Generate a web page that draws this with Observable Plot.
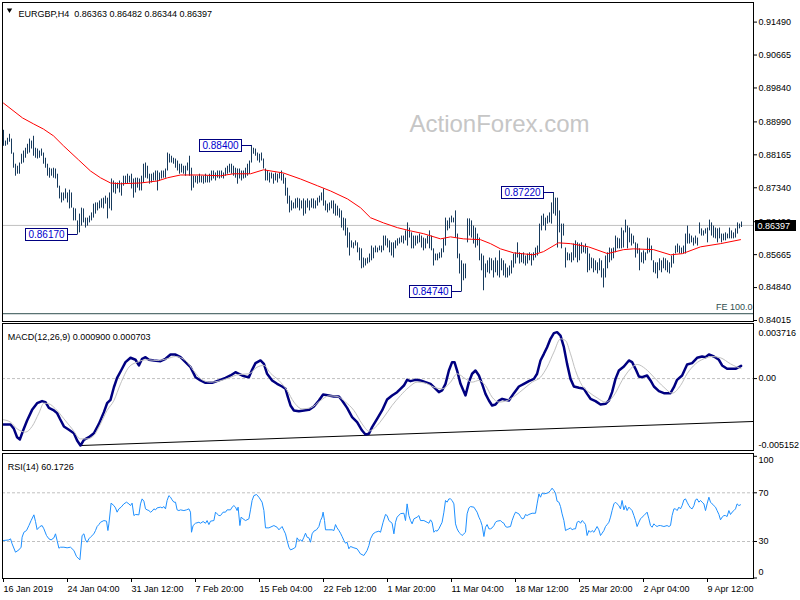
<!DOCTYPE html>
<html><head><meta charset="utf-8">
<script src="https://cdn.jsdelivr.net/npm/d3@7"></script>
<script src="https://cdn.jsdelivr.net/npm/@observablehq/plot@0.6"></script>
<style>
body{margin:0;background:#fff;}
#chart{position:relative;width:800px;height:600px;background:#fff;overflow:hidden;}
#chart svg{position:absolute;left:0;top:0;}
</style></head><body><div id="chart"></div>
<script>
// ---------------- DATA ----------------
const chartTitle = "EURGBP,H4\u00a0\u00a00.86363 0.86482 0.86344 0.86397";
const macdTitle = "MACD(12,26,9) 0.000900 0.000703";
const rsiTitle = "RSI(14) 60.1726";
const watermark = "ActionForex.com";
const lastClose = 0.86397;
const lastCloseLabel = "0.86397";

const barHigh = [
0.8878,0.8851,0.8858,0.8868,0.8856,0.8821,0.8793,0.8788,0.8796,0.8818,
0.8826,0.8833,0.8843,0.8856,0.8851,0.8863,0.8833,0.8831,0.8826,0.8831,
0.8821,0.8808,0.8793,0.8783,0.8781,0.8783,0.8781,0.8768,0.8738,0.8721,
0.8721,0.8731,0.8721,0.8728,0.8721,0.8683,0.8681,0.8651,0.8668,0.8683,
0.8681,0.8658,0.8658,0.8663,0.8671,0.8693,0.8696,0.8696,0.8701,0.8706,
0.8708,0.8713,0.8708,0.8721,0.8756,0.8751,0.8746,0.8746,0.8751,0.8746,
0.8763,0.8763,0.8768,0.8763,0.8768,0.8756,0.8758,0.8758,0.8756,0.8763,
0.8793,0.8796,0.8788,0.8768,0.8768,0.8771,0.8776,0.8776,0.8771,0.8776,
0.8776,0.8781,0.8821,0.8818,0.8813,0.8808,0.8806,0.8801,0.8793,0.8793,
0.8788,0.8788,0.8796,0.8813,0.8783,0.8763,0.8763,0.8763,0.8768,0.8763,
0.8763,0.8768,0.8763,0.8768,0.8776,0.8776,0.8771,0.8776,0.8776,0.8776,
0.8771,0.8783,0.8788,0.8793,0.8793,0.8788,0.8783,0.8781,0.8781,0.8776,
0.8776,0.8783,0.8793,0.8801,0.8840,0.8833,0.8831,0.8821,0.8818,0.8821,
0.8806,0.8781,0.8776,0.8771,0.8771,0.8768,0.8771,0.8768,0.8771,0.8776,
0.8768,0.8758,0.8733,0.8713,0.8701,0.8696,0.8706,0.8708,0.8706,0.8701,
0.8706,0.8701,0.8706,0.8701,0.8706,0.8706,0.8701,0.8708,0.8713,0.8721,
0.8731,0.8701,0.8693,0.8696,0.8701,0.8701,0.8693,0.8688,0.8681,0.8676,
0.8658,0.8656,0.8633,0.8621,0.8601,0.8596,0.8601,0.8596,0.8583,0.8581,
0.8558,0.8556,0.8558,0.8568,0.8588,0.8583,0.8588,0.8583,0.8588,0.8588,
0.8613,0.8613,0.8606,0.8601,0.8596,0.8596,0.8601,0.8606,0.8608,0.8613,
0.8613,0.8626,0.8646,0.8633,0.8621,0.8613,0.8613,0.8613,0.8618,0.8613,
0.8608,0.8606,0.8613,0.8626,0.8613,0.8581,0.8568,0.8568,0.8571,0.8581,
0.8606,0.8658,0.8651,0.8658,0.8663,0.8658,0.8676,0.8618,0.8568,0.8551,
0.8543,0.8543,0.8656,0.8656,0.8651,0.8638,0.8633,0.8618,0.8608,0.8568,
0.8563,0.8543,0.8551,0.8558,0.8556,0.8551,0.8558,0.8551,0.8576,0.8556,
0.8551,0.8543,0.8533,0.8538,0.8551,0.8568,0.8571,0.8596,0.8571,0.8568,
0.8571,0.8563,0.8568,0.8571,0.8568,0.8571,0.8583,0.8588,0.8643,0.8663,
0.8668,0.8658,0.8663,0.8671,0.8696,0.8722,0.8708,0.8708,0.8676,0.8643,
0.8643,0.8583,0.8571,0.8568,0.8571,0.8593,0.8601,0.8596,0.8593,0.8596,
0.8588,0.8593,0.8583,0.8568,0.8558,0.8556,0.8551,0.8546,0.8556,0.8551,
0.8531,0.8563,0.8571,0.8583,0.8581,0.8583,0.8613,0.8608,0.8606,0.8633,
0.8626,0.8653,0.8638,0.8633,0.8618,0.8613,0.8596,0.8593,0.8581,0.8571,
0.8576,0.8571,0.8608,0.8606,0.8588,0.8551,0.8546,0.8546,0.8556,0.8551,
0.8558,0.8556,0.8551,0.8546,0.8563,0.8568,0.8588,0.8593,0.8588,0.8583,
0.8588,0.8618,0.8638,0.8618,0.8613,0.8608,0.8613,0.8608,0.8646,0.8631,
0.8626,0.8631,0.8633,0.8653,0.8646,0.8638,0.8633,0.8631,0.8633,0.8618,
0.8618,0.8621,0.8618,0.8633,0.8626,0.8621,0.8631,0.8646,0.8643,0.86482];

const barLow = [
0.8838,0.8838,0.8841,0.8848,0.8818,0.8783,0.8763,0.8768,0.8768,0.8793,
0.8796,0.8808,0.8818,0.8821,0.8831,0.8813,0.8808,0.8806,0.8808,0.8813,
0.8793,0.8783,0.8763,0.8758,0.8763,0.8758,0.8756,0.8733,0.8706,0.8696,
0.8701,0.8706,0.8696,0.8681,0.8683,0.8651,0.8651,0.8617,0.8621,0.8638,
0.8646,0.8633,0.8638,0.8646,0.8651,0.8658,0.8668,0.8676,0.8681,0.8683,
0.8681,0.8693,0.8656,0.8681,0.8676,0.8721,0.8718,0.8731,0.8721,0.8713,
0.8738,0.8743,0.8743,0.8746,0.8731,0.8708,0.8721,0.8733,0.8726,0.8726,
0.8746,0.8758,0.8756,0.8743,0.8746,0.8751,0.8751,0.8726,0.8751,0.8756,
0.8758,0.8758,0.8776,0.8796,0.8796,0.8793,0.8783,0.8776,0.8768,0.8771,
0.8768,0.8763,0.8776,0.8763,0.8726,0.8733,0.8746,0.8743,0.8746,0.8746,
0.8743,0.8746,0.8746,0.8746,0.8751,0.8756,0.8751,0.8758,0.8756,0.8758,
0.8756,0.8763,0.8768,0.8771,0.8768,0.8763,0.8758,0.8743,0.8756,0.8751,
0.8756,0.8758,0.8763,0.8768,0.8796,0.8818,0.8813,0.8801,0.8796,0.8801,
0.8781,0.8751,0.8751,0.8746,0.8756,0.8743,0.8751,0.8746,0.8756,0.8751,
0.8743,0.8713,0.8693,0.8671,0.8676,0.8681,0.8681,0.8683,0.8676,0.8681,
0.8663,0.8668,0.8683,0.8676,0.8683,0.8681,0.8681,0.8688,0.8696,0.8701,
0.8688,0.8676,0.8671,0.8676,0.8681,0.8668,0.8663,0.8663,0.8658,0.8633,
0.8626,0.8613,0.8583,0.8563,0.8583,0.8581,0.8588,0.8571,0.8551,0.8531,
0.8533,0.8538,0.8543,0.8546,0.8551,0.8556,0.8571,0.8571,0.8576,0.8571,
0.8576,0.8588,0.8583,0.8571,0.8563,0.8558,0.8581,0.8588,0.8593,0.8596,
0.8593,0.8601,0.8588,0.8608,0.8581,0.8581,0.8588,0.8593,0.8596,0.8583,
0.8576,0.8581,0.8593,0.8581,0.8576,0.8538,0.8551,0.8551,0.8556,0.8558,
0.8571,0.8588,0.8626,0.8631,0.8646,0.8646,0.8608,0.8556,0.8518,0.8474,
0.8501,0.8506,0.8596,0.8613,0.8608,0.8593,0.8583,0.8588,0.8551,0.8526,
0.8476,0.8508,0.8521,0.8518,0.8526,0.8508,0.8521,0.8513,0.8508,0.8526,
0.8513,0.8508,0.8508,0.8513,0.8518,0.8533,0.8543,0.8558,0.8543,0.8546,
0.8543,0.8538,0.8543,0.8551,0.8538,0.8551,0.8558,0.8563,0.8571,0.8626,
0.8638,0.8626,0.8643,0.8646,0.8643,0.8668,0.8663,0.8583,0.8621,0.8581,
0.8613,0.8533,0.8551,0.8551,0.8546,0.8551,0.8558,0.8546,0.8551,0.8568,
0.8571,0.8568,0.8521,0.8526,0.8531,0.8521,0.8526,0.8518,0.8526,0.8508,
0.8483,0.8508,0.8531,0.8546,0.8551,0.8556,0.8571,0.8581,0.8581,0.8581,
0.8583,0.8621,0.8581,0.8596,0.8588,0.8593,0.8558,0.8568,0.8526,0.8546,
0.8543,0.8551,0.8568,0.8571,0.8551,0.8521,0.8518,0.8506,0.8526,0.8521,
0.8531,0.8526,0.8521,0.8518,0.8533,0.8543,0.8568,0.8571,0.8568,0.8568,
0.8568,0.8568,0.8593,0.8593,0.8596,0.8588,0.8593,0.8588,0.8618,0.8613,
0.8613,0.8618,0.8596,0.8626,0.8613,0.8608,0.8606,0.8596,0.8606,0.8596,
0.8601,0.8601,0.8606,0.8606,0.8606,0.8606,0.8608,0.8618,0.8631,0.86344];

// moving average (red)
const maBar = [0,9.5,15,20,25,30,37.5,43.5,48.5,53.5,58.5,68.5,77,82,88.5,98.5,108.5,115,123.5,130,140,148.5,157,163.5,172,178.5,183.5,190,197,203.5,210,218.5,223.5,230,238.5,243.5,248.5,255,265,270,277.5,283.5,292.5,302,310,315,325,333.5,339.5,348.5,358.5,368.5];
const maValue = [0.8946,0.8909,0.8894,0.8881,0.8864,0.8839,0.8804,0.8776,0.8759,0.8746,0.8744,0.8746,0.8751,0.8759,0.8766,0.8766,0.8764,0.8769,0.8769,0.8779,0.8771,0.8756,0.8739,0.8726,0.8706,0.8684,0.8659,0.8646,0.8634,0.8626,0.8619,0.8606,0.8611,0.8606,0.8604,0.8594,0.8581,0.8571,0.8566,0.8574,0.8596,0.8594,0.8586,0.8569,0.8579,0.8581,0.8579,0.8566,0.8569,0.8586,0.8594,0.8604];

// swing labels
const swingBar = [37, 124, 229, 275];
const swingPrice = [0.8617, 0.8840, 0.8474, 0.8722];
const swingLabel = ["0.86170", "0.88400", "0.84740", "0.87220"];

// Fibonacci expansion level
const feLevel = 0.84185;
const feLabel = "FE 100.0";

const priceTicks = [0.91490, 0.90665, 0.89840, 0.88990, 0.88165, 0.87340, 0.86490, 0.85665, 0.84840, 0.84015];

// MACD main line
const macdBar = [0,3.5,5.2,6.8,8.2,9.8,11.8,14.3,16.8,19.3,21,22.7,25.2,26.8,28.2,30.2,32.7,35.2,36.8,38.5,40.2,42.7,45.2,47.7,50.2,51.8,53.5,55.2,56.8,58.8,61,63.5,66,67.7,69.3,71,72.7,75.2,78.5,81,83.5,86,88.5,91,93.5,96,98.5,101,104.3,107.7,111,113.5,116,117.7,119.3,121,122.7,124.3,126,128.5,130.2,131.8,134.3,136.8,139.3,141,142.2,143.5,145.2,147.7,150.2,152.7,155.2,157.7,159.8,162.7,165.2,167.7,169.3,171.8,174.3,176.8,179.3,181,182.7,184.3,186.8,189.3,191.8,194.3,196.8,
198.5,200.2,201.8,203.5,206,208.5,211,213.5,215.2,217.7,219.3,221,222.7,224.3,225.5,226.8,228.5,231,232.7,234.3,236,237.7,239.3,241,242.7,244.3,246,247.7,249.3,251,252.7,255.2,257.7,260.2,262.7,265.2,266.8,268.5,270.2,271.8,273.5,275.2,276.8,278.5,280.2,281.8,283.5,285.2,287.7,290.2,291.8,293.5,296,298.5,301,302.7,304.3,306,307.7,310.2,312.7,314.3,316,317.7,319.3,321.8,323.5,325.2,327.7,330.2,333.5,335.2,336.8,339.3,341.8,344.3,346.8,349.3,351,352.7,355.2,357.7,359.3,361.8,364.3,366,367.7,368.8];
const macdValue = [-0.00324,-0.00324,-0.00355,-0.00414,-0.0043,-0.00367,-0.00296,-0.00221,-0.00174,-0.00159,-0.00166,-0.00207,-0.00225,-0.00244,-0.00284,-0.00338,-0.00362,-0.00386,-0.00437,-0.00473,-0.00433,-0.00414,-0.00386,-0.0032,-0.00237,-0.00174,-0.0015,-0.00061,0.00005,0.00057,0.00116,0.00147,0.00133,0.00093,0.0014,0.00151,0.00133,0.00128,0.00123,0.0014,0.0017,0.0017,0.00151,0.00116,0.00081,0.0001,-0.00013,-0.0003,-0.0003,-0.00013,0.00005,0.00022,0.00045,0.00034,0.00022,0.00015,0.0001,0.00062,0.00109,0.00128,0.00104,0.00034,-0.00013,-0.00037,-0.00056,-0.00072,-0.00131,-0.0019,-0.00225,-0.0023,-0.00225,-0.00221,-0.00197,-0.00155,-0.00112,-0.00119,-0.00126,-0.00126,-0.00155,-0.00207,-0.00272,-0.00308,-0.00367,-0.00395,-0.0039,-0.00343,-0.00284,-0.00225,-0.00148,-0.00119,-0.00096,
-0.00072,-0.00049,-0.00009,-0.00018,-0.00009,-0.00013,-0.00025,-0.00037,-0.00061,-0.00096,-0.00084,-0.00037,0.00057,0.00116,0.00116,0.00057,-0.00037,-0.00119,-0.00025,0.00034,0.00057,0.00022,-0.00037,-0.00108,-0.00155,-0.0019,-0.00183,-0.00155,-0.00143,-0.0015,-0.00155,-0.00103,-0.00056,-0.00037,-0.00018,-0.00002,0.00034,0.00128,0.00175,0.00222,0.00281,0.00321,0.00328,0.00304,0.00222,0.00104,-0.00002,-0.00056,-0.00065,-0.00072,-0.00108,-0.00143,-0.00159,-0.00183,-0.00178,-0.00155,-0.00096,-0.00002,0.00057,0.00085,0.00128,0.00116,0.00069,0.00015,0.0001,0.00022,-0.00013,-0.00056,-0.00089,-0.00103,-0.00103,-0.00061,-0.00009,0.00022,0.001,0.00109,0.00147,0.00156,0.00151,0.0017,0.00156,0.00133,0.00093,0.00069,0.00069,0.00069,0.00081,0.0009];

// MACD signal line
const signalBar = [0,3.5,6.8,11,14.3,17.7,20.2,22.7,26,30.2,34.3,38.5,41.8,45.2,48.5,51.8,55.2,58.5,62.7,66.8,71.8,76.8,81.8,86,91,95.2,99.3,103.5,107.7,112.7,117.7,122.7,126.8,130.2,133.5,137.7,141.8,145.2,149.3,153.5,158.5,162.7,166.8,171,175.2,179.3,182.7,186,190.2,194.3,198.5,202.7,206.8,211,215.2,219.3,223.5,226.8,231,234.3,237.7,241,244.3,247.7,251.8,256,260.2,264.3,268.5,271.8,275.2,278.5,281,283.5,286,289.3,292.7,296.8,301,305.2,309.3,313.5,316.8,321,325.2,330.2,334.3,338.5,341.8,346,350.2,354.3,358.5,363.5,366.8,368.8];
const signalValue = [-0.00291,-0.00308,-0.00355,-0.00378,-0.00338,-0.00244,-0.00174,-0.00178,-0.00214,-0.00284,-0.00355,-0.00426,-0.00426,-0.00402,-0.0032,-0.00225,-0.00155,-0.00037,0.00081,0.00116,0.00133,0.00128,0.0014,0.00156,0.00128,0.00053,-0.00009,-0.00025,-0.00018,0.00005,0.00029,0.00034,0.00081,0.00093,0.00038,-0.00013,-0.00084,-0.00166,-0.00214,-0.00207,-0.00155,-0.00122,-0.00126,-0.00166,-0.00225,-0.0032,-0.00371,-0.00343,-0.00272,-0.0019,-0.0012,-0.00061,-0.00025,-0.00032,-0.00061,-0.00072,-0.00025,0.00034,-0.00002,-0.00025,-0.00013,-0.00049,-0.00131,-0.00166,-0.00155,-0.00119,-0.00072,-0.00025,0.0001,0.00081,0.00187,0.00281,0.00269,0.00175,0.00057,-0.00049,-0.00096,-0.00136,-0.00166,-0.00119,-0.00013,0.00069,0.001,0.00069,0.0001,-0.00061,-0.00103,-0.00049,0.00034,0.00104,0.0014,0.00156,0.00147,0.00104,0.00081,0.000703];

const macdTrendBar = [38.5, 375];
const macdTrendValue = [-0.00473, -0.00303];
const macdMax = 0.003716, macdMin = -0.005152;

// RSI(14)
const rsiBar = [0,2.7,3.5,4.3,6,7.7,8.8,9.3,10.2,11.5,12.7,13.8,15.2,16,16.8,18.2,19.3,20.2,21.5,22.7,23.8,25.2,26,26.8,27.7,28.5,30.2,31.8,33.5,35.2,36.5,37.7,38.2,39.3,40.2,41,41.8,42.7,43.8,45.2,46,46.8,47.7,48.5,50.2,51.5,52.2,52.7,53.8,55.2,56,56.8,57.7,58.8,60.2,61.5,62.7,63.5,64.3,65.2,66,67.7,68.5,69.3,70.2,71,71.8,72.7,73.5,74.3,75.2,76,76.8,78.5,79.3,80.2,81,81.8,82.7,83.5,84.3,85.2,86,86.8,87.7,88.5,90.2,91.5,92.7,93.5,94,94.8,96,97.7,98.5,99.8,101,101.8,102.7,103.5,105.2,106,106.8,107.7,108.5,109.8,111,111.8,113.5,114.3,115.2,116,116.8,117.3,118.2,118.8,119.8,121,122.7,123.5,124.3,125.2,126.5,127.7,129.3,130.2,131,132.7,135.2,136.8,137.7,139.3,140.2,141,141.8,142.7,143.5,144.8,146,146.8,147.7,148.5,149.3,150.2,151,151.8,152.7,153.5,154.3,155.2,156.5,157.7,158.5,159.3,159.8,160.5,161,162.7,164.3,165.2,166,166.8,167.7,168.5,169.3,170.2,171,171.8,172.7,173.5,175.2,176.8,178.5,180.2,181.8,182.7,183.5,184.8,186,187.7,188.5,189.8,191,191.8,192.7,194.3,195.2,196,196.8,198.5,200.2,201,201.8,202.7,203.5,204.3,205.2,206.8,207.7,208.5,210.2,211.8,212.7,213.5,214.3,215.2,216,216.8,217.7,219.3,220.2,221,221.8,222.7,223.5,224.3,225.2,226,226.8,227.7,228.5,229.3,230.2,231,231.8,232.7,233.5,235.2,236.8,237.7,238.5,239.3,240.2,241,241.8,242.7,243.5,244.3,245.2,246,246.8,248.5,249.3,250.2,251,251.8,253.5,254.3,255.2,256,257.7,258.5,259.3,260.2,261,261.8,262.7,264.3,266,266.8,267.7,268.5,269.3,270.2,271.8,272.7,273.5,274.3,275.2,276,276.8,277.7,278.5,279.3,280.2,281,281.8,282.7,283.5,284.3,285.2,286,286.8,287.7,288.5,289.3,290.2,291,291.8,292.7,293.5,294.3,295.2,296.8,297.7,298.5,299.3,300.2,301,301.8,302.7,303.5,304.3,305.2,306,306.8,307.7,308.5,309.3,310.2,311,311.8,312.7,313.5,314.3,315.2,316,316.8,317.7,318.5,319.3,320.2,321.8,322.7,323.5,324.3,325.2,326,326.8,327.7,328.5,330.2,331.8,332.7,333.5,334.3,335.2,336,336.8,337.7,338.5,339.3,340.2,341,341.8,342.7,343.5,344.3,345.2,346,346.8,347.7,348.5,349.3,350.2,351,351.8,352.7,353.5,354.3,355.2,356,356.8,357.7,358.5,359.3,360.2,361,361.8,362.7,363.5,364.3,365.2,366,366.8,367.7,368.5];
const rsiValue = [30.8,31.3,32.2,28.1,21.2,23.1,25.3,33.5,37.6,39.0,43.1,47.2,51.9,46.4,39.8,42.3,43.1,40.4,34.9,32.2,31.3,33.0,36.3,30.8,24.5,25.3,25.3,24.8,25.3,22.6,17.6,15.7,14.9,34.9,36.3,31.3,29.4,32.2,34.1,36.3,39.0,42.3,43.9,45.8,47.2,46.7,39.0,44.5,61.5,59.5,57.6,54.1,56.8,58.2,60.9,62.3,60.9,59.5,61.5,51.3,52.2,51.9,60.9,65.0,63.1,56.8,56.0,55.4,54.1,54.9,56.8,56.0,57.6,58.2,57.6,58.7,56.8,63.7,67.7,66.4,64.2,62.3,62.3,56.0,55.4,56.0,55.4,56.0,56.8,54.1,37.6,43.1,45.0,45.8,45.0,46.4,45.0,47.2,43.9,46.7,47.2,54.1,52.7,51.3,51.3,54.1,54.1,56.0,56.0,58.2,59.5,58.2,55.4,58.2,43.1,50.0,48.6,47.2,48.6,56.0,63.7,67.7,68.6,66.4,62.3,55.4,41.2,41.2,43.1,41.7,39.6,42.3,39.0,36.3,30.8,25.3,23.1,24.0,25.3,33.0,30.8,31.3,30.2,33.5,36.8,33.5,33.0,29.4,36.3,38.5,39.6,42.3,47.2,50.0,54.1,47.2,39.6,39.6,39.6,39.0,43.9,41.2,39.0,36.8,34.1,30.8,28.6,29.4,24.0,25.9,24.8,24.0,19.8,18.5,22.6,26.7,32.2,36.3,37.6,38.5,37.6,45.8,52.2,51.3,47.2,45.0,36.3,45.8,50.0,52.9,53.2,47.2,60.9,51.3,47.2,44.5,48.6,50.0,51.3,47.2,47.2,45.8,45.0,47.8,45.8,37.6,39.0,38.5,40.4,45.8,54.1,63.7,62.3,65.0,65.0,63.7,60.9,44.5,40.4,37.6,36.3,34.9,36.3,37.6,52.7,57.6,58.7,58.2,54.1,50.0,47.2,43.1,34.1,41.7,43.9,40.4,40.4,41.2,43.1,45.8,46.7,47.2,45.8,45.0,42.3,41.7,42.3,47.2,51.3,54.1,52.7,50.5,48.6,49.1,52.2,51.3,52.2,53.2,53.2,60.9,69.1,66.4,69.7,69.1,69.7,70.5,71.9,73.8,71.9,69.7,63.1,62.3,58.7,52.7,47.2,39.0,39.8,40.4,41.2,39.6,40.4,40.4,45.8,46.7,45.0,47.2,45.8,43.9,34.9,39.0,37.6,39.0,37.6,42.3,39.6,34.9,36.8,39.0,42.3,43.9,45.8,50.0,55.4,60.9,62.3,60.9,59.5,56.8,63.7,56.0,59.5,55.4,58.2,56.8,55.4,51.3,47.2,42.3,45.8,48.6,50.0,51.3,54.1,48.6,43.1,41.7,44.5,43.1,42.3,43.1,43.1,42.3,43.1,42.3,43.1,51.3,56.8,56.8,55.4,58.2,56.8,59.5,64.2,65.0,62.3,59.5,57.6,56.8,59.5,64.2,65.0,62.3,63.7,62.3,60.9,55.4,60.9,66.4,62.3,60.9,59.5,58.2,55.4,52.2,47.8,50.0,51.3,51.3,50.5,55.4,52.2,54.1,55.4,56.8,60.9,59.5,60.17];
const rsiLevels = [70, 30];

// time axis
const timeTickBar = [0, 32, 64, 96, 128, 160, 192, 224, 256, 288, 320, 352];
const timeTickLabel = ["16 Jan 2019", "24 Jan 04:00", "31 Jan 12:00", "7 Feb 20:00", "15 Feb 04:00", "22 Feb 12:00", "1 Mar 20:00", "11 Mar 04:00", "18 Mar 12:00", "25 Mar 20:00", "2 Apr 04:00", "9 Apr 12:00"];

// ---------------- DRAW ----------------
const FONT = "'Liberation Sans', Arial, Helvetica, sans-serif";
const BAR = "#173a5c", NAVY = "#000080", LABELBLUE = "#0000cd", SILVER = "#c0c0c0";
const xScale = {domain: [-0.5, 375], range: [2, 753], axis: null};
const mainY = {domain: [0.84015, 0.91490], range: [320, 21.6], axis: null};
const common = {
  width: 800, height: 600, marginLeft: 2, marginRight: 47,
  style: {background: "transparent", overflow: "visible", fontFamily: FONT, fontSize: "9px", color: "#000"}
};

const bars = barHigh.map((h, i) => ({i, high: h, low: barLow[i]}));
const ma = maBar.map((b, k) => ({i: b, v: maValue[k]}));
const macd = macdBar.map((b, k) => ({i: b, v: macdValue[k]}));
const signal = signalBar.map((b, k) => ({i: b, v: signalValue[k]}));
const trend = macdTrendBar.map((b, k) => ({i: b, v: macdTrendValue[k]}));
const rsi = rsiBar.map((b, k) => ({i: b, v: rsiValue[k]}));

function swingBoxes(index, scales, values, dims) {
  const g = d3.create("svg:g").attr("font-family", FONT).attr("font-size", 10);
  swingBar.forEach((b, k) => {
    const bx = Math.round(scales.x(b)) + 0.5;
    const by = Math.round(scales.y(swingPrice[k])) + 0.5;
    const right = bx - 10, left = right - 42;
    g.append("path").attr("d", `M${right},${by}H${bx}`).attr("stroke", NAVY).attr("fill", "none");
    g.append("rect").attr("x", left).attr("y", by - 6).attr("width", 42).attr("height", 12)
      .attr("fill", "#fff").attr("stroke", NAVY);
    g.append("text").attr("x", left + 21).attr("y", by).attr("dy", "0.36em")
      .attr("text-anchor", "middle").attr("fill", LABELBLUE).text(swingLabel[k]);
  });
  return g.node();
}

function priceBox(index, scales, values, dims) {
  const y = Math.round(scales.y(lastClose));
  const x0 = dims.width - dims.marginRight + 2;
  const g = d3.create("svg:g");
  g.append("rect").attr("x", x0).attr("y", y - 5).attr("width", 41).attr("height", 11).attr("fill", "#000");
  g.append("text").attr("x", x0 + 2.5).attr("y", y + 0.5).attr("dy", "0.35em").attr("fill", "#fff")
    .attr("text-anchor", "start").attr("font-family", FONT).attr("font-size", 9).text(lastCloseLabel);
  return g.node();
}

const mainPanel = Plot.plot({
  ...common, marginTop: 2, marginBottom: 279,
  x: xScale,
  y: mainY,
  marks: [
    Plot.text([watermark], {text: d => d, frameAnchor: "top-left", dx: 497, dy: 112, textAnchor: "middle", fontSize: 24, fill: "#c6c6c6"}),
    Plot.ruleY([lastClose], {stroke: SILVER}),
    Plot.ruleY([feLevel], {stroke: "#2f4f4f"}),
    Plot.text([feLevel], {y: d => d, text: () => feLabel, frameAnchor: "right", dx: -1, dy: -6.5, textAnchor: "end", fill: "#2f4f4f", fontSize: 9}),
    Plot.ruleX(bars, {x: "i", y1: "low", y2: "high", stroke: BAR, strokeWidth: 1}),
    Plot.line(ma, {x: "i", y: "v", stroke: "#ff0000", strokeWidth: 1}),
    swingBoxes,
    Plot.frame({stroke: "#000"}),
    Plot.axisY(priceTicks, {anchor: "right", tickSize: 3, tickPadding: 2, tickFormat: d => d.toFixed(5), label: null, fontSize: 9}),
    Plot.dot([0], {frameAnchor: "top-left", dx: 7, dy: 7.5, symbol: "triangle", r: 2, rotate: 180, fill: "#000", stroke: null}),
    Plot.text([chartTitle], {text: d => d, frameAnchor: "top-left", dx: 16, dy: 8.3, textAnchor: "start", fill: "#000", fontSize: 9})
  ]
});

// overlay layer: current price marker drawn above the price axis labels
const priceLayer = Plot.plot({
  ...common, marginTop: 2, marginBottom: 279,
  x: xScale,
  y: mainY,
  marks: [priceBox]
});

const macdPanel = Plot.plot({
  ...common, marginTop: 323, marginBottom: 150,
  x: xScale,
  y: {domain: [macdMin, macdMax], range: [451, 325.5]},
  marks: [
    Plot.ruleY([0], {stroke: SILVER, strokeDasharray: "3,2"}),
    Plot.line(trend, {x: "i", y: "v", stroke: "#000", strokeWidth: 1}),
    Plot.line(macd, {x: "i", y: "v", stroke: NAVY, strokeWidth: 2.5, curve: "linear"}),
    Plot.line(signal, {x: "i", y: "v", stroke: SILVER, strokeWidth: 1, curve: "monotone-x"}),
    Plot.frame({stroke: "#000"}),
    Plot.axisY([0], {anchor: "right", tickSize: 3, tickPadding: 2, tickFormat: () => "0.00", label: null, fontSize: 9}),
    Plot.text([macdMax], {y: d => d, text: d => String(d), frameAnchor: "right", dx: 5, dy: 7.5, textAnchor: "start", fontSize: 9}),
    Plot.text([macdMin], {y: d => d, text: d => String(d), frameAnchor: "right", dx: 5, dy: -6.7, textAnchor: "start", fontSize: 9}),
    Plot.text([macdTitle], {text: d => d, frameAnchor: "top-left", dx: 5.3, dy: 10.3, textAnchor: "start", fill: "#000", fontSize: 9})
  ]
});

const rsiPanel = Plot.plot({
  ...common, marginTop: 453, marginBottom: 22,
  x: {domain: xScale.domain, range: xScale.range},
  y: {domain: [0, 100], range: [577.5, 455.8]},
  marks: [
    Plot.ruleY(rsiLevels, {stroke: SILVER, strokeDasharray: "3,2"}),
    Plot.line(rsi, {x: "i", y: "v", stroke: "#1e90ff", strokeWidth: 1}),
    Plot.frame({stroke: "#000"}),
    Plot.axisY([100, 70, 30, 0], {anchor: "right", tickSize: 3, tickPadding: 2, tickFormat: d => (d === 70 || d === 30) ? String(d) : "", label: null, fontSize: 9}),
    Plot.text([100], {y: d => d, text: d => String(d), frameAnchor: "right", dx: 5, dy: 4.2, textAnchor: "start", fontSize: 9}),
    Plot.text([0], {y: d => d, text: d => String(d), frameAnchor: "right", dx: 5, dy: -5.5, textAnchor: "start", fontSize: 9}),
    Plot.axisX(timeTickBar, {anchor: "bottom", tickSize: 4, tickPadding: 3.5, textAnchor: "start",
      tickFormat: d => timeTickLabel[timeTickBar.indexOf(d)], label: null, fontSize: 9}),
    Plot.text([rsiTitle], {text: d => d, frameAnchor: "top-left", dx: 5.3, dy: 9.7, textAnchor: "start", fill: "#000", fontSize: 9})
  ]
});

const host = document.getElementById("chart");
host.append(mainPanel, macdPanel, rsiPanel, priceLayer);
</script>
</body></html>
